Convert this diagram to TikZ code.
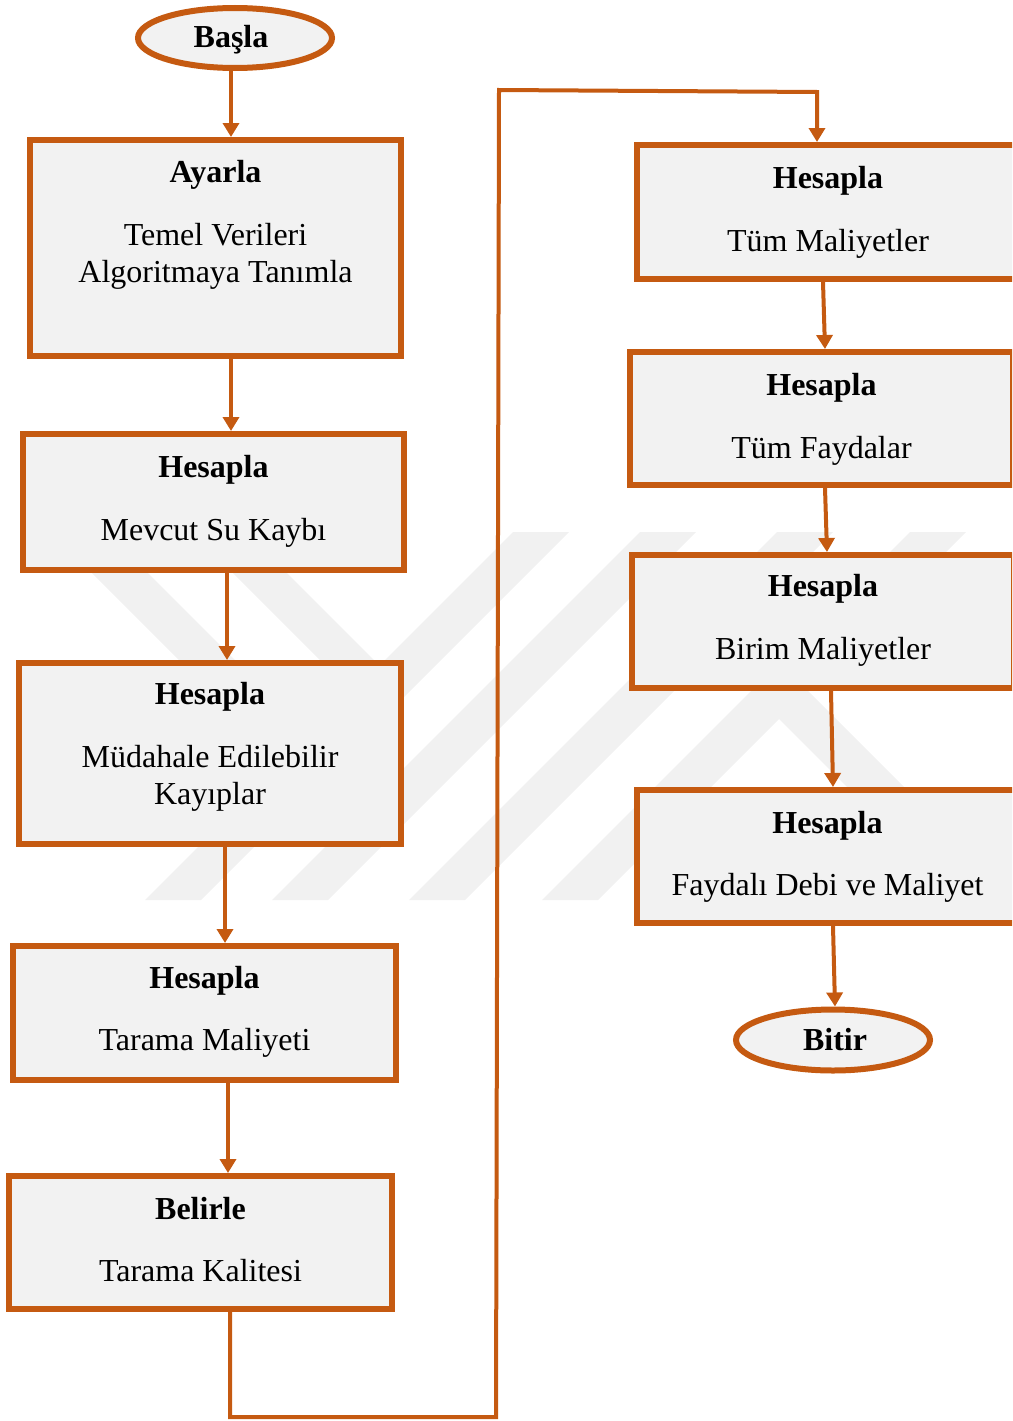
\documentclass[tikz,border=0pt]{standalone}
\usepackage{fontspec}
\setmainfont{Liberation Serif}
\usetikzlibrary{arrows.meta,shapes.geometric}
\definecolor{frame}{HTML}{C55A11}
\definecolor{boxfill}{HTML}{F2F2F2}
\definecolor{wmark}{HTML}{F1F1F1}
\begin{document}
\begin{tikzpicture}[x=1pt,y=-1pt,
  stepbox/.style={rectangle, draw=frame, fill=boxfill, line width=6pt, inner sep=0pt},
  term/.style={ellipse, draw=frame, fill=boxfill, line width=6pt, inner sep=0pt},
  head/.style={anchor=base, inner sep=0pt, font=\fontsize{32}{38}\selectfont\bfseries},
  body/.style={anchor=base, inner sep=0pt, font=\fontsize{32}{38}\selectfont},
  conn/.style={draw=frame, line width=4pt, -{Triangle[width=16pt,length=14pt]}},
  wm/.style={fill=wmark}]
\useasboundingbox (0,0) rectangle (1012,1421);
\clip (0,0) rectangle (1012,1421);

% watermark
\begin{scope}
\clip (0,532) rectangle (1012,900);
\foreach \a in {513,640,777,910} {
  \fill[wm] (\a,532) -- ++(56,0) -- ++(-368,368) -- ++(-56,0) -- cycle;
}
\fill[wm] (51,532) -- (107,532) -- (335,760) -- (279,760) -- cycle;
\fill[wm] (192,532) -- (246,532) -- (394,680) -- (340,680) -- cycle;
\fill[wm] (750,690) -- (807,690) -- (1017,900) -- (960,900) -- cycle;
\end{scope}

% terminals
\node[term, minimum width=194pt, minimum height=60pt] (start) at (235,38) {};
\node[head] (ts) at (231,48) {Başla};
\node[term, minimum width=194pt, minimum height=61pt] (stop) at (833,1040) {};
\node[head] (te) at (835,1050) {Bitir};

% left column
\node[stepbox, minimum width=371pt, minimum height=216pt] (b1) at (215.5,248) {};
\node[head] (t1a) at (215.5,182) {Ayarla};
\node[body] (t1b) at (215.5,245) {Temel Verileri};
\node[body] (t1c) at (215.5,282) {Algoritmaya Tanımla};

\node[stepbox, minimum width=381pt, minimum height=136pt] (b2) at (213.5,502) {};
\node[head] (t2a) at (213.5,477) {Hesapla};
\node[body] (t2b) at (213.5,540) {Mevcut Su Kaybı};

\node[stepbox, minimum width=382pt, minimum height=181pt] (b3) at (210,753.5) {};
\node[head] (t3a) at (210,704) {Hesapla};
\node[body] (t3b) at (210,767) {Müdahale Edilebilir};
\node[body] (t3c) at (210,804) {Kayıplar};

\node[stepbox, minimum width=383pt, minimum height=134pt] (b4) at (204.5,1013) {};
\node[head] (t4a) at (204.5,988) {Hesapla};
\node[body] (t4b) at (204.5,1050) {Tarama Maliyeti};

\node[stepbox, minimum width=383pt, minimum height=133pt] (b5) at (200.5,1242.5) {};
\node[head] (t5a) at (200.5,1219) {Belirle};
\node[body] (t5b) at (200.5,1281) {Tarama Kalitesi};

% right column
\node[stepbox, minimum width=382pt, minimum height=134pt] (b6) at (828,212) {};
\node[head] (t6a) at (828,188) {Hesapla};
\node[body] (t6b) at (828,251) {Tüm Maliyetler};

\node[stepbox, minimum width=383pt, minimum height=133pt] (b7) at (821.5,418.5) {};
\node[head] (t7a) at (821.5,395) {Hesapla};
\node[body] (t7b) at (821.5,458) {Tüm Faydalar};

\node[stepbox, minimum width=382pt, minimum height=133pt] (b8) at (823,621.5) {};
\node[head] (t8a) at (823,596) {Hesapla};
\node[body] (t8b) at (823,659) {Birim Maliyetler};

\node[stepbox, minimum width=381pt, minimum height=133pt] (b9) at (827.5,856.5) {};
\node[head] (t9a) at (827.5,833) {Hesapla};
\node[body] (t9b) at (827.5,895) {Faydalı Debi ve Maliyet};

% connector x positions
\coordinate (ca) at (231,0);
\coordinate (cb) at (227,0);
\coordinate (cc) at (225,0);
\coordinate (cd) at (228,0);
\coordinate (p6s) at (823,0);
\coordinate (p7n) at (825,0);
\coordinate (p7s) at (825,0);
\coordinate (p8n) at (827,0);
\coordinate (p8s) at (831,0);
\coordinate (p9n) at (833,0);
\coordinate (p9s) at (833,0);
\coordinate (pen) at (835,0);
\coordinate (w1) at (230,1417);
\coordinate (w2) at (496,1417);
\coordinate (w3) at (499,90);
\coordinate (w4) at (817,92);

% connectors
\draw[conn] (start.south -| ca) -- (b1.north -| ca);
\draw[conn] (b1.south -| ca) -- (b2.north -| ca);
\draw[conn] (b2.south -| cb) -- (b3.north -| cb);
\draw[conn] (b3.south -| cc) -- (b4.north -| cc);
\draw[conn] (b4.south -| cd) -- (b5.north -| cd);
\draw[conn] (b5.south -| w1) -- (w1) -- (w2) -- (w3) -- (w4) -- (b6.north -| w4);
\draw[conn] (b6.south -| p6s) -- (b7.north -| p7n);
\draw[conn] (b7.south -| p7s) -- (b8.north -| p8n);
\draw[conn] (b8.south -| p8s) -- (b9.north -| p9n);
\draw[conn] (b9.south -| p9s) -- (stop.north -| pen);
\end{tikzpicture}
\end{document}
